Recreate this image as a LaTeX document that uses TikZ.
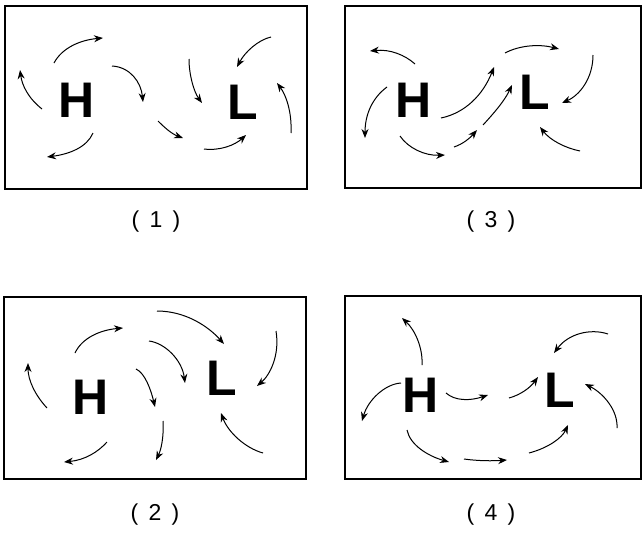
\documentclass[tikz,border=0pt]{standalone}
\usepackage{fontspec}
\setmainfont{Liberation Sans}
\usetikzlibrary{arrows.meta}

\newcommand{\casenum}[1]{(\hspace{0.45em}#1\hspace{0.45em})}

\begin{document}
\begin{tikzpicture}[x=1pt,y=-1pt,
  panel/.style={draw,line width=1.9pt},
  pres/.style={font=\fontsize{50}{50}\selectfont\bfseries,inner sep=0pt},
  tag/.style={font=\fontsize{23}{23}\selectfont,inner sep=0pt},
  flow/.style={-{Stealth[length=9pt,width=7pt]},line width=1pt}]
  \useasboundingbox (0,0) rectangle (644,533);

  % panel (1)
  \draw[panel] (5,6) rectangle (307,189);
  \node[pres] (H1) at (77,100) {H};
  \node[pres] (L1) at (243,102) {L};
  \node[tag] (lab1) at (156,222) {\casenum{1}};
  \draw[flow] (54,63) .. controls (62,48) and (80,40) .. (103,38);
  \draw[flow] (42,109) .. controls (28,98) and (22,85) .. (20,70);
  \draw[flow] (93,133) .. controls (87,147) and (70,154) .. (47,157);
  \draw[flow] (112,66) .. controls (130,67) and (141,82) .. (143,102);
  \draw[flow] (158,121) .. controls (165,128) and (172,134) .. (183,138);
  \draw[flow] (204,149) .. controls (220,151) and (235,145) .. (246,135);
  \draw[flow] (189,59) .. controls (189,75) and (194,92) .. (202,103);
  \draw[flow] (271,37) .. controls (258,40) and (245,52) .. (237,67);
  \draw[flow] (291,133) .. controls (292,112) and (286,95) .. (277,83);

  % panel (3)
  \draw[panel] (345,6) rectangle (641,188);
  \node[pres] (H3) at (414,100) {H};
  \node[pres] (L3) at (535,92) {L};
  \node[tag] (lab3) at (491,222) {\casenum{3}};
  \draw[flow] (415,64) .. controls (405,55) and (390,49) .. (370,51);
  \draw[flow] (387,87) .. controls (372,98) and (365,115) .. (365,138);
  \draw[flow] (400,136) .. controls (408,148) and (425,156) .. (445,155);
  \draw[flow] (454,147) .. controls (463,144) and (470,138) .. (477,130);
  \draw[flow] (483,125) .. controls (495,112) and (505,100) .. (512,85);
  \draw[flow] (441,118) .. controls (465,113) and (483,95) .. (494,67);
  \draw[flow] (505,53) .. controls (520,45) and (540,44) .. (559,49);
  \draw[flow] (593,55) .. controls (593,78) and (580,95) .. (562,103);
  \draw[flow] (580,151) .. controls (565,148) and (550,140) .. (540,127);

  % panel (2)
  \draw[panel] (4,297) rectangle (306,479);
  \node[pres] (H2) at (91,397) {H};
  \node[pres] (L2) at (222,378) {L};
  \node[tag] (lab2) at (155,515) {\casenum{2}};
  \draw[flow] (75,353) .. controls (82,338) and (100,330) .. (123,328);
  \draw[flow] (47,408) .. controls (35,395) and (28,380) .. (28,363);
  \draw[flow] (107,442) .. controls (98,452) and (85,460) .. (64,462);
  \draw[flow] (157,311) .. controls (185,311) and (208,326) .. (224,344);
  \draw[flow] (149,341) .. controls (165,343) and (182,360) .. (185,383);
  \draw[flow] (136,369) .. controls (145,373) and (151,390) .. (155,407);
  \draw[flow] (163,421) .. controls (164,437) and (161,450) .. (156,460);
  \draw[flow] (276,331) .. controls (280,355) and (270,375) .. (257,386);
  \draw[flow] (263,453) .. controls (245,448) and (228,432) .. (221,413);

  % panel (4)
  \draw[panel] (345,296) rectangle (641,479);
  \node[pres] (H4) at (421,395) {H};
  \node[pres] (L4) at (560,390) {L};
  \node[tag] (lab4) at (491,515) {\casenum{4}};
  \draw[flow] (422,365) .. controls (423,348) and (415,330) .. (402,318);
  \draw[flow] (401,383) .. controls (385,384) and (368,400) .. (362,421);
  \draw[flow] (446,393) .. controls (455,401) and (470,401) .. (488,395);
  \draw[flow] (509,398) .. controls (520,395) and (530,388) .. (538,377);
  \draw[flow] (407,430) .. controls (410,445) and (428,456) .. (449,462);
  \draw[flow] (464,459) .. controls (478,461) and (493,461) .. (507,460);
  \draw[flow] (529,453) .. controls (548,448) and (562,438) .. (568,425);
  \draw[flow] (608,334) .. controls (590,328) and (568,334) .. (554,353);
  \draw[flow] (617,428) .. controls (618,410) and (603,393) .. (585,384);
\end{tikzpicture}
\end{document}
